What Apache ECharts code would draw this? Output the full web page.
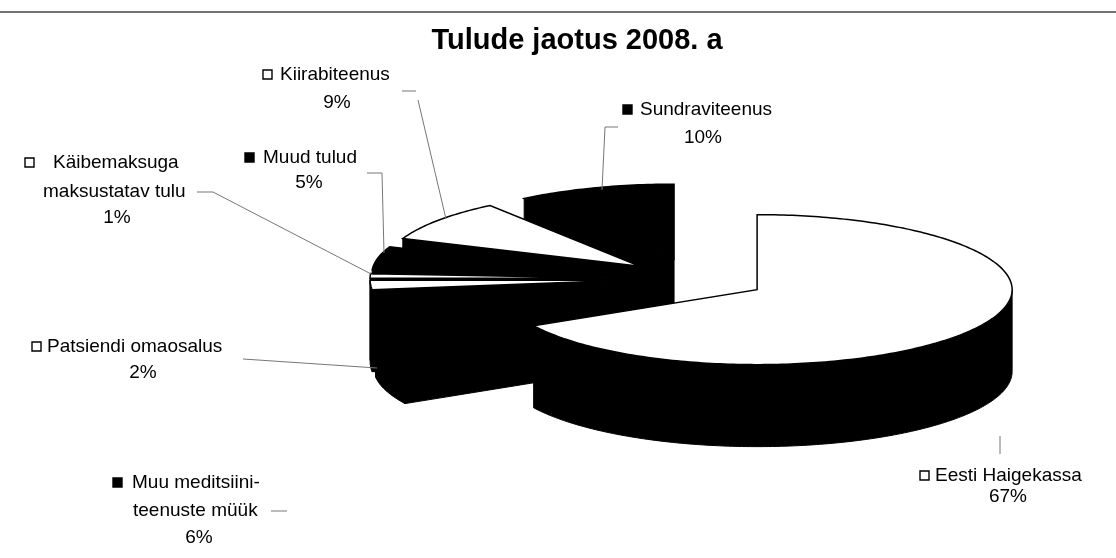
<!DOCTYPE html>
<html>
<head>
<meta charset="utf-8">
<script src="https://cdn.jsdelivr.net/npm/echarts@6/dist/echarts.min.js"></script>
<style>
  html, body { margin: 0; background: #fff; }
  #chart { width: 1116px; height: 558px; }
</style>
</head>
<body>
<div id="chart"></div>
<script>
  // andmed (päripäeva alates kella 12-st)
  const categories = ['Eesti Haigekassa', 'Muu meditsiiniteenuste müük', 'Patsiendi omaosalus',
    'Käibemaksuga maksustatav tulu', 'Muud tulud', 'Kiirabiteenus', 'Sundraviteenus']
  const shares = [67, 6, 2, 1, 5, 9, 10]
  const nameLines = [['Eesti Haigekassa'], ['Muu meditsiini-', 'teenuste müük'], ['Patsiendi omaosalus'],
    ['Käibemaksuga', 'maksustatav tulu'], ['Muud tulud'], ['Kiirabiteenus'], ['Sundraviteenus']]
  const keyFilled = [false, true, false, false, true, false, true]
  const chartTitle = 'Tulude jaotus 2008. a'

  // 3D-pirukas: kese, raadiused, paksus, väljatõmme
  const pie = { cx: 696, cy: 279, rx: 255, ry: 75, depth: 82, explode: 71 }
  const font = '"Liberation Sans", Arial, sans-serif'

  // siltide paigutus: ruudu asukoht, teksti algus, järgmised read, juhtjooned
  const labelLayout = [
    { key: [920, 476], tx: 935, rows: [[1008, 497]], leader: [[[1000, 436], [1000, 454]]] },
    { key: [113, 483], tx: 132, rows: [[133, 511, 'left'], [199, 538]], leader: [[[271, 511], [287, 511]]] },
    { key: [32, 347], tx: 47, rows: [[143, 373]], leader: [[[243, 359], [377, 368]]] },
    { key: [25, 163], tx: 53, rows: [[43, 192, 'left'], [117, 218]], leader: [[[197, 192], [213, 192], [373, 275]]] },
    { key: [245, 158], tx: 263, rows: [[309, 183]], leader: [[[367, 173], [382, 173], [384, 253]]] },
    { key: [263, 75], tx: 280, rows: [[337, 103]], leader: [[[402, 91], [416, 91]], [[418, 100], [446, 219]]] },
    { key: [623, 110], tx: 640, rows: [[703, 138]], leader: [[[618, 127], [605, 127], [602, 190]]] }
  ]

  const total = shares.reduce((a, b) => a + b, 0)
  const starts = []
  shares.reduce((acc, v, i) => { starts[i] = acc; return acc + v }, 0)

  function renderSlice(params, api) {
    const i = api.value(0)
    const t1 = starts[i] / total * Math.PI * 2
    const t2 = (starts[i] + shares[i]) / total * Math.PI * 2
    const mid = (t1 + t2) / 2
    const ax = pie.cx + pie.explode * Math.sin(mid)
    const ay = pie.cy - pie.explode * (pie.ry / pie.rx) * Math.cos(mid)
    const P = (t, dz) => [ax + pie.rx * Math.sin(t), ay - pie.ry * Math.cos(t) + dz]
    const arc = (a, b, dz) => {
      const n = Math.max(2, Math.ceil(Math.abs(b - a) / (Math.PI / 180)))
      const pts = []
      for (let k = 0; k <= n; k++) pts.push(P(a + (b - a) * k / n, dz))
      return pts
    }
    // tagumised enne, eesmised hiljem
    const base = Math.round((-Math.cos(mid) + 1) * 100)
    const D = pie.depth
    const wall = { fill: '#000', stroke: '#000', lineWidth: 1 }
    const children = []

    const fa = Math.max(t1, Math.PI / 2), fb = Math.min(t2, Math.PI * 1.5)
    if (fb > fa) {
      children.push({ type: 'polygon', z2: base, shape: { points: arc(fa, fb, 0).concat(arc(fb, fa, D)) }, style: wall })
    }
    if (Math.sin(t1) < -1e-6) {
      children.push({ type: 'polygon', z2: base, shape: { points: [[ax, ay], P(t1, 0), P(t1, D), [ax, ay + D]] }, style: wall })
    }
    if (Math.sin(t2) > 1e-6) {
      children.push({ type: 'polygon', z2: base, shape: { points: [[ax, ay], P(t2, 0), P(t2, D), [ax, ay + D]] }, style: wall })
    }
    children.push({
      type: 'polygon', z2: base + 1,
      shape: { points: [[ax, ay]].concat(arc(t1, t2, 0)) },
      style: { fill: keyFilled[i] ? '#000' : '#fff', stroke: '#000', lineWidth: 1.5 }
    })

    // sildid
    const lay = labelLayout[i]
    lay.leader.forEach(pts => {
      children.push({ type: 'polyline', z2: 300, shape: { points: pts }, style: { stroke: '#777', lineWidth: 1, fill: null } })
    })
    children.push({
      type: 'rect', z2: 301,
      shape: { x: lay.key[0], y: lay.key[1] - 5, width: 9, height: 9 },
      style: { fill: keyFilled[i] ? '#000' : '#fff', stroke: '#000', lineWidth: 1.4 }
    })
    children.push({
      type: 'text', z2: 301, x: lay.tx, y: lay.key[1],
      style: { text: nameLines[i][0], font: '19px ' + font, fill: '#000', align: 'left', verticalAlign: 'middle' }
    })
    const rest = nameLines[i].slice(1).concat([shares[i] + '%'])
    rest.forEach((txt, j) => {
      const r = lay.rows[j]
      children.push({
        type: 'text', z2: 301, x: r[0], y: r[1],
        style: { text: txt, font: '19px ' + font, fill: '#000', align: r[2] || 'center', verticalAlign: 'middle' }
      })
    })
    return { type: 'group', children: children }
  }

  const chart = echarts.init(document.getElementById('chart'))
  chart.setOption({
    backgroundColor: '#fff',
    animation: false,
    graphic: [
      { type: 'line', shape: { x1: 0, y1: 12, x2: 1116, y2: 12 }, style: { stroke: '#444', lineWidth: 1.4 } },
      {
        type: 'text', x: 577, y: 41,
        style: { text: chartTitle, font: 'bold 29px ' + font, fill: '#000', align: 'center', verticalAlign: 'middle' }
      }
    ],
    series: [{
      type: 'custom',
      coordinateSystem: 'none',
      renderItem: renderSlice,
      data: categories.map((name, i) => ({ name: name, value: [i, shares[i]] }))
    }]
  })
</script>
</body>
</html>
